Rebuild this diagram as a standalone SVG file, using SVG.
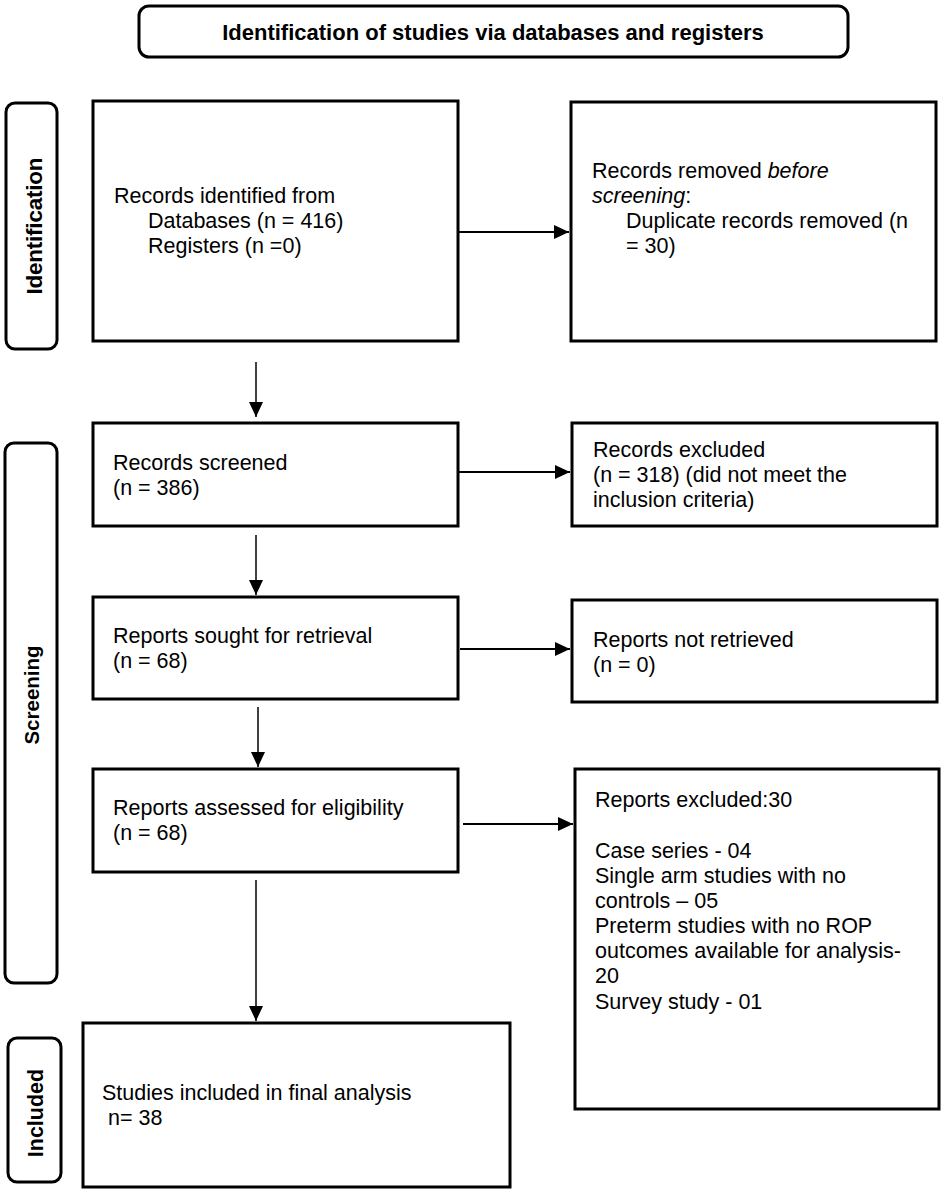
<svg xmlns="http://www.w3.org/2000/svg" width="945" height="1194" viewBox="0 0 945 1194">
<style>
.bg{fill:#fff}
.box{fill:#fff;stroke:#000;stroke-width:3}
.side{fill:#fff;stroke:#000;stroke-width:3}
.t{font-family:"Liberation Sans",Arial,sans-serif;font-size:21.5px;fill:#000}
.lb{font-family:"Liberation Sans",Arial,sans-serif;font-weight:bold;fill:#000;text-anchor:middle}
.v{stroke:#000;stroke-width:1.5;fill:none}
.h{stroke:#000;stroke-width:2;fill:none}
</style>
<defs>
<marker id="ah" markerUnits="userSpaceOnUse" markerWidth="16" markerHeight="14" refX="15" refY="7" orient="auto">
<path d="M0,0 L15,7 L0,14 Z" fill="#000"/>
</marker>
</defs>
<rect class="bg" x="0" y="0" width="945" height="1194"/>

<g id="title">
<rect class="side" x="139" y="6" width="709" height="51" rx="10"/>
<text class="lb" x="493" y="40" font-size="22">Identification of studies via databases and registers</text>
</g>

<g id="phase-identification">
<rect class="side" x="6" y="103" width="51" height="246" rx="9"/>
<text class="lb" font-size="22.5" transform="translate(42,226) rotate(-90)" textLength="137">Identification</text>
</g>
<g id="phase-screening">
<rect class="side" x="5" y="443" width="52" height="540" rx="9"/>
<text class="lb" font-size="20.5" transform="translate(39,695) rotate(-90)">Screening</text>
</g>
<g id="phase-included">
<rect class="side" x="8" y="1038" width="53" height="144" rx="9"/>
<text class="lb" font-size="21.5" transform="translate(43,1113) rotate(-90)">Included</text>
</g>

<g id="records-identified">
<rect class="box" x="93" y="101" width="365" height="240"/>
<text class="t" x="114" y="203">Records identified from</text>
<text class="t" x="148" y="228">Databases (n = 416)</text>
<text class="t" x="148" y="253">Registers (n =0)</text>
</g>
<g id="records-removed">
<rect class="box" x="571" y="102" width="365" height="239"/>
<text class="t" x="592" y="178">Records removed <tspan font-style="italic">before</tspan></text>
<text class="t" x="592" y="203"><tspan font-style="italic">screening</tspan>:</text>
<text class="t" x="626" y="228">Duplicate records removed (n</text>
<text class="t" x="626" y="253">= 30)</text>
</g>
<g id="records-screened">
<rect class="box" x="93" y="423" width="365" height="103"/>
<text class="t" x="113" y="470">Records screened</text>
<text class="t" x="113" y="495">(n = 386)</text>
</g>
<g id="records-excluded">
<rect class="box" x="572" y="423" width="365" height="103"/>
<text class="t" x="593" y="457">Records excluded</text>
<text class="t" x="593" y="482">(n = 318) (did not meet the</text>
<text class="t" x="593" y="507">inclusion criteria)</text>
</g>
<g id="reports-sought">
<rect class="box" x="93" y="597" width="365" height="102"/>
<text class="t" x="113" y="643">Reports sought for retrieval</text>
<text class="t" x="113" y="668">(n = 68)</text>
</g>
<g id="reports-not-retrieved">
<rect class="box" x="572" y="600" width="365" height="102"/>
<text class="t" x="593" y="647">Reports not retrieved</text>
<text class="t" x="593" y="672">(n = 0)</text>
</g>
<g id="reports-assessed">
<rect class="box" x="93" y="769" width="365" height="103"/>
<text class="t" x="113" y="815">Reports assessed for eligibility</text>
<text class="t" x="113" y="840">(n = 68)</text>
</g>
<g id="reports-excluded">
<rect class="box" x="575" y="769" width="364" height="340"/>
<text class="t" x="595" y="807">Reports excluded:30</text>
<text class="t" x="595" y="858">Case series - 04</text>
<text class="t" x="595" y="883">Single arm studies with no</text>
<text class="t" x="595" y="908">controls – 05</text>
<text class="t" x="595" y="933">Preterm studies with no ROP</text>
<text class="t" x="595" y="958">outcomes available for analysis-</text>
<text class="t" x="595" y="983">20</text>
<text class="t" x="595" y="1009">Survey study - 01</text>
</g>
<g id="studies-included">
<rect class="box" x="83" y="1023" width="427" height="164"/>
<text class="t" x="102" y="1100">Studies included in final analysis</text>
<text class="t" x="102" y="1125" xml:space="preserve"> n= 38</text>
</g>

<g id="connectors">
<line class="h" x1="458" y1="232" x2="569" y2="232" marker-end="url(#ah)"/>
<line class="v" x1="256" y1="362" x2="256" y2="417" marker-end="url(#ah)"/>
<line class="h" x1="458" y1="472" x2="570" y2="472" marker-end="url(#ah)"/>
<line class="v" x1="256" y1="535" x2="256" y2="595" marker-end="url(#ah)"/>
<line class="h" x1="460" y1="649" x2="570" y2="649" marker-end="url(#ah)"/>
<line class="v" x1="258" y1="707" x2="258" y2="767" marker-end="url(#ah)"/>
<line class="h" x1="463" y1="824" x2="573" y2="824" marker-end="url(#ah)"/>
<line class="v" x1="256" y1="880" x2="256" y2="1021" marker-end="url(#ah)"/>
</g>
</svg>
